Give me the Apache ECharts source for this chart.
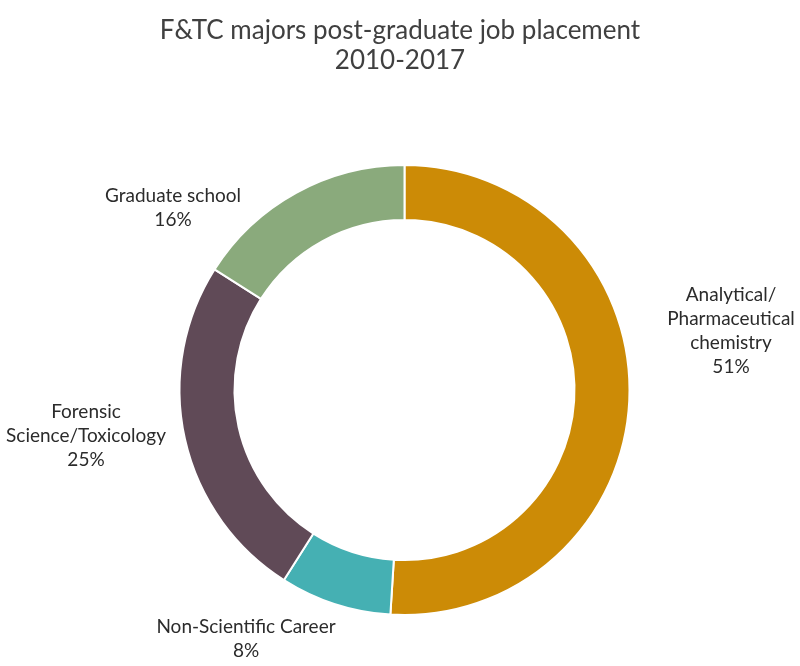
<!DOCTYPE html>
<html>
<head>
<meta charset="utf-8">
<script src="https://cdn.jsdelivr.net/npm/echarts@6/dist/echarts.min.js"></script>
<style>
html,body{margin:0;padding:0;background:#fff;}
#chart{width:800px;height:666px;}
</style>
</head>
<body>
<div id="chart"></div>
<script>
var categories = ["Analytical/\nPharmaceutical\nchemistry", "Non-Scientific Career", "Forensic\nScience/Toxicology", "Graduate school"];
var values = [51, 8, 25, 16];
var colors = ["#CC8B06", "#45B0B3", "#604A57", "#8AAA7C"];
var labelSpots = [[731, 331], [246, 639], [86, 436], [173, 208]];

var chart = echarts.init(document.getElementById('chart'), null, {renderer: 'canvas'});
var FONT = 'Lato, "Noto Sans", sans-serif';
chart.setOption({
  animation: false,
  title: {
    text: 'F&TC majors post-graduate job placement\n2010-2017',
    left: 'center',
    top: 11,
    textStyle: {fontFamily: FONT, fontWeight: 'normal', fontSize: 26, color: '#404040', lineHeight: 30}
  },
  series: [{
    type: 'pie',
    center: [404.5, 390],
    radius: [170, 225],
    startAngle: 90,
    clockwise: true,
    avoidLabelOverlap: false,
    data: categories.map(function (c, i) {
      return {name: c, value: values[i], itemStyle: {color: colors[i]}};
    }),
    itemStyle: {borderColor: '#fff', borderWidth: 2},
    label: {
      show: true,
      position: 'outside',
      formatter: function (p) { return p.name + '\n' + p.value + '%'; },
      fontFamily: FONT,
      fontSize: 19,
      lineHeight: 24,
      color: '#2b2b2b',
      align: 'center'
    },
    labelLine: {show: false},
    labelLayout: function (params) {
      var s = labelSpots[params.dataIndex];
      return {x: s[0], y: s[1], align: 'center', verticalAlign: 'middle'};
    }
  }]
});
</script>
</body>
</html>
